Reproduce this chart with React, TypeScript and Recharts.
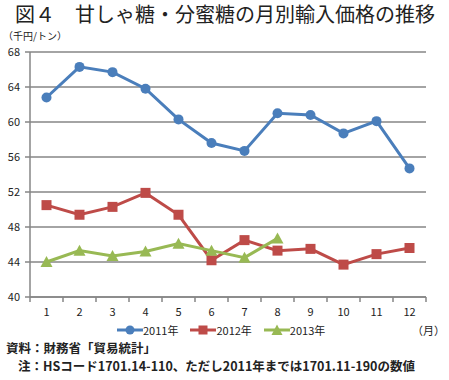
import { LineChart, Line, XAxis, YAxis, CartesianGrid } from "recharts";

const months = ["1", "2", "3", "4", "5", "6", "7", "8", "9", "10", "11", "12"];
const y2011 = [62.8, 66.3, 65.7, 63.8, 60.3, 57.6, 56.7, 61.0, 60.8, 58.7, 60.1, 54.7];
const y2012 = [50.5, 49.4, 50.3, 51.9, 49.4, 44.2, 46.5, 45.3, 45.5, 43.7, 44.9, 45.6];
const y2013 = [44.0, 45.3, 44.7, 45.2, 46.1, 45.3, 44.5, 46.7];
const yTicks = [40, 44, 48, 52, 56, 60, 64, 68];

const data = months.map((m, i) => ({
  month: m,
  y2011: y2011[i],
  y2012: y2012[i],
  y2013: i < y2013.length ? y2013[i] : null,
}));

const BLUE = "#4a7ebb";
const RED = "#be4b48";
const GREEN = "#98b954";
const GRID = "#868686";
const JP = "'Noto Sans CJK JP', 'Noto Sans', sans-serif";

const CircleDot = (p: any) =>
  p.cy == null ? null : <circle cx={p.cx} cy={p.cy} r={5} fill={BLUE} />;
const SquareDot = (p: any) =>
  p.cy == null ? null : <rect x={p.cx - 5} y={p.cy - 5} width={10} height={10} fill={RED} />;
const TriDot = (p: any) =>
  p.cy == null ? null : (
    <polygon
      points={`${p.cx},${p.cy - 6} ${p.cx - 6},${p.cy + 5} ${p.cx + 6},${p.cy + 5}`}
      fill={GREEN}
    />
  );

const MonthTick = (p: any) => {
  const half = 16.5;
  const last = p.index === months.length - 1;
  return (
    <g>
      <line x1={p.x - half} y1={p.y - 8} x2={p.x - half} y2={p.y - 3} stroke={GRID} strokeWidth={1.5} />
      {last && (
        <line x1={p.x + half} y1={p.y - 8} x2={p.x + half} y2={p.y - 3} stroke={GRID} strokeWidth={1.5} />
      )}
      <text x={p.x} y={p.y + 11} textAnchor="middle" fontSize={11} fill="#222" fontFamily={JP}>
        {p.payload.value}
      </text>
    </g>
  );
};

const legendItems = [
  { name: "2011年", color: BLUE, shape: "circle" },
  { name: "2012年", color: RED, shape: "square" },
  { name: "2013年", color: GREEN, shape: "tri" },
];

const LegendBox = () => (
  <div
    style={{
      position: "absolute",
      left: 117,
      top: 323,
      display: "flex",
      gap: 12,
      fontFamily: JP,
      fontSize: 11,
      lineHeight: "14px",
      color: "#222",
    }}
  >
    {legendItems.map((it) => (
      <div key={it.name} style={{ display: "flex", alignItems: "center" }}>
        <svg width={26} height={12}>
          <line x1={0} y1={6} x2={26} y2={6} stroke={it.color} strokeWidth={3} />
          {it.shape === "circle" && <circle cx={13} cy={6} r={4.5} fill={it.color} />}
          {it.shape === "square" && <rect x={8.5} y={1.5} width={9} height={9} fill={it.color} />}
          {it.shape === "tri" && <polygon points="13,0.5 7.5,11 18.5,11" fill={it.color} />}
        </svg>
        <span>{it.name}</span>
      </div>
    ))}
  </div>
);

export default function App() {
  return (
    <div style={{ position: "absolute", left: 0, top: 0, width: 449, height: 380, background: "#fff", fontFamily: JP }}>
      <div style={{ position: "absolute", left: 15, top: 2, fontSize: 20, lineHeight: "24px", color: "#222", whiteSpace: "nowrap" }}>
        図４　甘しゃ糖・分蜜糖の月別輸入価格の推移
      </div>
      <div style={{ position: "absolute", left: 3, top: 29, fontSize: 10, lineHeight: "14px", color: "#222", whiteSpace: "nowrap" }}>
        （千円/トン）
      </div>
      <LineChart width={449} height={380} data={data} margin={{ top: 52, right: 23, bottom: 53, left: 0 }}>
        <CartesianGrid vertical={false} stroke={GRID} strokeWidth={1.5} />
        <XAxis
          dataKey="month"
          axisLine={{ stroke: GRID, strokeWidth: 1.5 }}
          tickLine={false}
          tick={<MonthTick />}
          height={30}
          interval={0}
          padding={{ left: 16.5, right: 16.5 }}
        />
        <YAxis
          domain={[40, 68]}
          ticks={yTicks}
          width={30}
          axisLine={{ stroke: GRID, strokeWidth: 1.5 }}
          tickLine={{ stroke: GRID, strokeWidth: 1.5 }}
          tickSize={5}
          tick={{ fontSize: 11, fill: "#222", fontFamily: JP, dx: -3 }}
          interval={0}
        />
        <Line dataKey="y2011" stroke={BLUE} strokeWidth={3} dot={<CircleDot />} isAnimationActive={false} />
        <Line dataKey="y2012" stroke={RED} strokeWidth={3} dot={<SquareDot />} isAnimationActive={false} />
        <Line dataKey="y2013" stroke={GREEN} strokeWidth={3} dot={<TriDot />} isAnimationActive={false} />
      </LineChart>
      <LegendBox />
      <div style={{ position: "absolute", left: 412, top: 323, fontSize: 11, lineHeight: "14px", color: "#222" }}>（月）</div>
      <div style={{ position: "absolute", left: 6, top: 340, fontSize: 12.5, lineHeight: "16px", fontWeight: 600, color: "#222", whiteSpace: "nowrap" }}>
        資料：財務省「貿易統計」
      </div>
      <div style={{ position: "absolute", left: 18, top: 358, fontSize: 12.5, lineHeight: "16px", fontWeight: 600, color: "#222", whiteSpace: "nowrap" }}>
        注：HSコード1701.14-110、ただし2011年までは1701.11-190の数値
      </div>
    </div>
  );
}
